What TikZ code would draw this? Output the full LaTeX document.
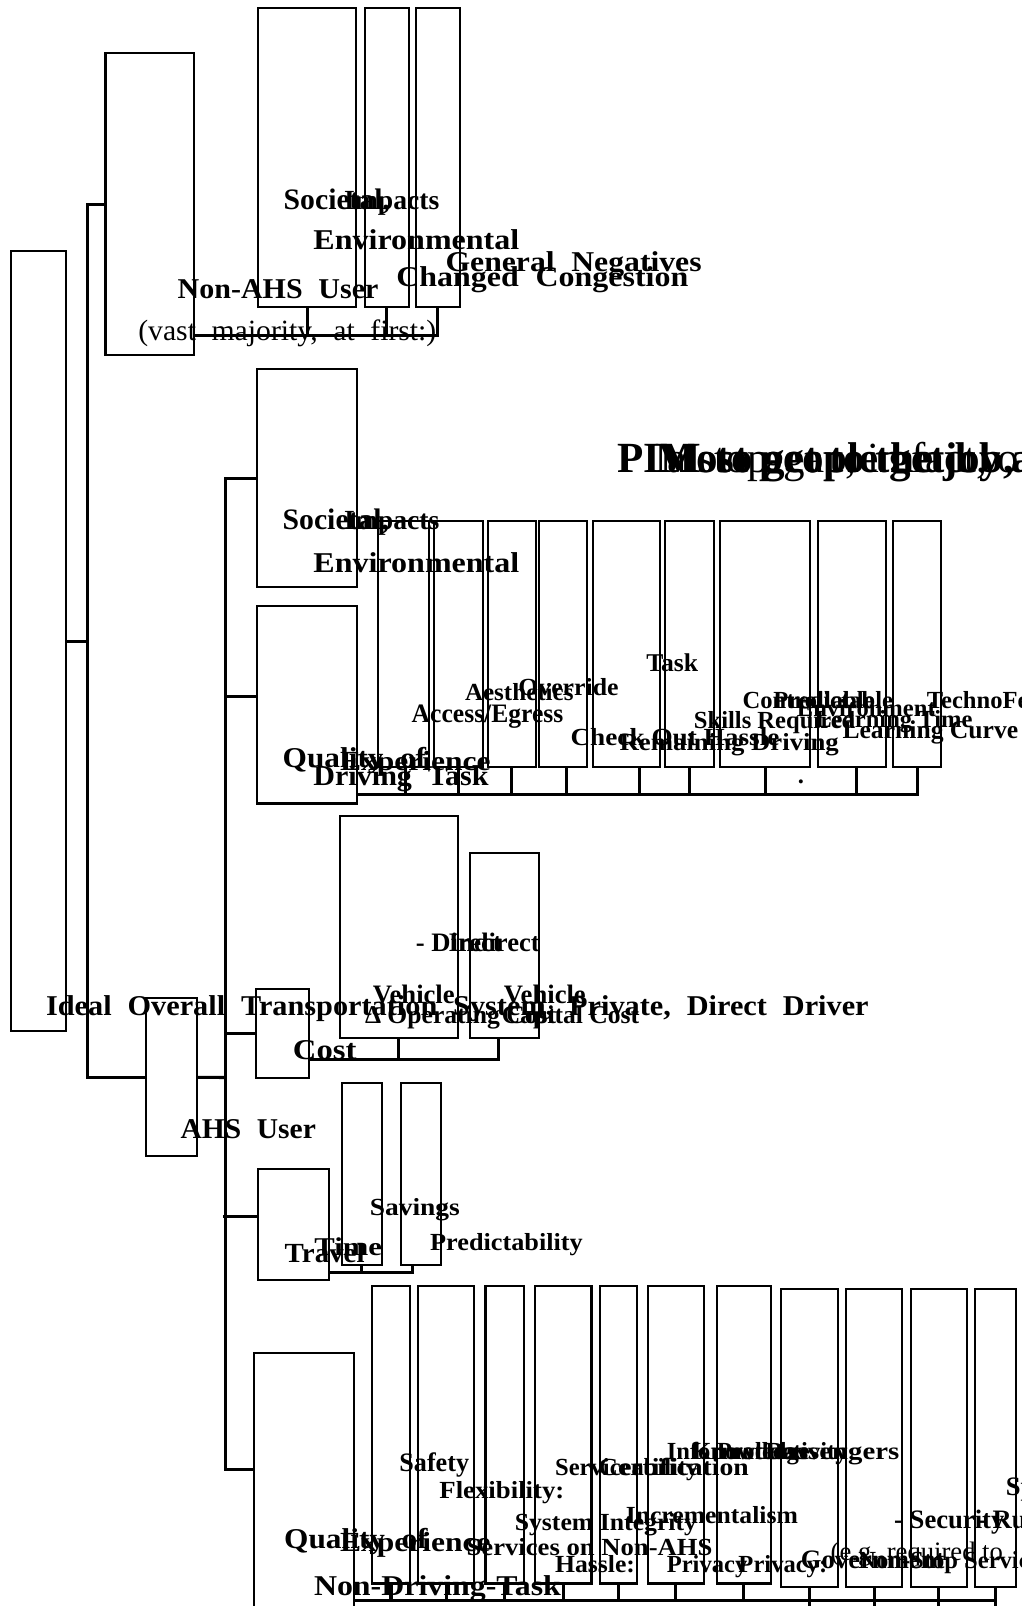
\documentclass[tikz,border=0pt]{standalone}
\usepackage{fontspec}
\usepackage{graphicx}
\setmainfont{Liberation Serif}
\newfontfamily\wfam{Liberation Serif}[WordSpace=2.9]
\newfontfamily\mfam{Liberation Serif}[WordSpace=2.1]
\newcommand\fitw[2]{\resizebox{#1pt}{\height}{#2}}
\tikzset{
  bx/.style={draw, line width=2pt, outer sep=0pt, inner sep=0pt, anchor=north west},
  cn/.style={line width=3pt},
  lb/.style={anchor=base west, inner sep=0pt, outer sep=0pt, font=\bfseries\fontsize{#1}{#1}\selectfont},
  lw/.style={anchor=base west, inner sep=0pt, outer sep=0pt, font=\wfam\bfseries\fontsize{#1}{#1}\selectfont},
  lr/.style={anchor=base west, inner sep=0pt, outer sep=0pt, font=\mfam\fontsize{#1}{#1}\selectfont},
  ln/.style={anchor=base west, inner sep=0pt, outer sep=0pt, font=\fontsize{#1}{#1}\selectfont},
}
\begin{document}
\begin{tikzpicture}[x=1pt,y=-1pt]
\useasboundingbox (0,0) rectangle (997,1568);
\clip (0,0) rectangle (997,1568);
% ---------------- boxes ----------------
\node[bx, minimum width=53pt, minimum height=762pt] (root) at (11,245) {};
\node[bx, minimum width=86pt, minimum height=295pt] (nonahs) at (103,52) {};
\node[bx, minimum width=96pt, minimum height=292pt] (nA) at (252,8) {};
\node[bx, minimum width=43pt, minimum height=292pt] (nB) at (356,8) {};
\node[bx, minimum width=43pt, minimum height=292pt] (nC) at (406,8) {};
\node[bx, minimum width=49.4pt, minimum height=154.4pt] (ahs) at (142.6,974.6) {};
\node[bx, minimum width=98pt, minimum height=213.5pt] (soc2) at (250.5,360) {};
\node[bx, minimum width=98pt, minimum height=192.5pt] (qdrv) at (250.5,592) {};
\node[bx, minimum width=50pt, minimum height=240.5pt] (d1) at (369,508.5) {};
\node[bx, minimum width=48pt, minimum height=240.5pt] (d2) at (424,508.5) {};
\node[bx, minimum width=46.5pt, minimum height=240.5pt] (d3) at (476.5,508.5) {};
\node[bx, minimum width=47pt, minimum height=240.5pt] (d4) at (526,508.5) {};
\node[bx, minimum width=65pt, minimum height=240.5pt] (d5) at (579,508.5) {};
\node[bx, minimum width=48pt, minimum height=240.5pt] (d6) at (649,508.5) {};
\node[bx, minimum width=88pt, minimum height=240.5pt] (d7) at (703,508.5) {};
\node[bx, minimum width=66pt, minimum height=240.5pt] (d8) at (799,508.5) {};
\node[bx, minimum width=47pt, minimum height=240.5pt] (d9) at (872,508.5) {};
\node[bx, minimum width=52.4pt, minimum height=86.3pt] (cost) at (249.6,966) {};
\node[bx, minimum width=115pt, minimum height=216pt] (cD) at (332,797) {};
\node[bx, minimum width=67pt, minimum height=180pt] (cE) at (459,833) {};
\node[bx, minimum width=69pt, minimum height=109pt] (trav) at (252,1141) {};
\node[bx, minimum width=39.4pt, minimum height=177pt] (tF) at (333.6,1057.6) {};
\node[bx, minimum width=39.4pt, minimum height=177pt] (tG) at (391.6,1057.6) {};
\node[bx, minimum width=98pt, minimum height=300pt] (qnd) at (248,1321) {};
\node[bx, minimum width=37.5pt, minimum height=290.5pt] (n1) at (363,1255.5) {};
\node[bx, minimum width=55pt, minimum height=290.5pt] (n2) at (408,1255.5) {};
\node[bx, minimum width=38pt, minimum height=290.5pt] (n3) at (474,1255.5) {};
\node[bx, minimum width=55.5pt, minimum height=290.5pt] (n4) at (522,1255.5) {};
\node[bx, minimum width=36.5pt, minimum height=290.5pt] (n5) at (585.5,1255.5) {};
\node[bx, minimum width=54.5pt, minimum height=290.5pt] (n6) at (632.5,1255.5) {};
\node[bx, minimum width=52.5pt, minimum height=290.5pt] (n7) at (700,1255.5) {};
\node[bx, minimum width=55.5pt, minimum height=290.7pt] (n8) at (762.5,1258.7) {};
\node[bx, minimum width=55pt, minimum height=290.7pt] (n9) at (826,1258.7) {};
\node[bx, minimum width=55pt, minimum height=290.7pt] (n10) at (889,1258.7) {};
\node[bx, minimum width=39.5pt, minimum height=290.7pt] (n11) at (952,1258.7) {};
% ---------------- connectors ----------------
\coordinate (jR) at (85,626);
\draw[cn] (root.east) -- (jR);
\draw[cn] (nonahs.west) -| (jR) |- (ahs.west);
\coordinate (jA) at (220,1052);
\draw[cn] (ahs.east) -- (jA);
\draw[cn] (soc2.west) -| (jA) |- ([yshift=36.4pt]qnd.west);
\draw[cn] ([yshift=8pt]qdrv.west) -- ++(-30.5,0);
\draw[cn] (cost.west) -- (cost.west -| jA);
\draw[cn] ([yshift=8pt]trav.west) -- ++(-34.5,0);
% top bar
\coordinate (barT) at (189,328);
\draw[cn] (barT) -| (nC.south);
\draw[cn] (nA.south) -- (nA.south |- barT);
\draw[cn] (nB.south) -- (nB.south |- barT);
% driving task bar
\coordinate (barD) at (348.5,776);
\draw[cn] (barD) -| (d9.south);
\foreach \n/\s in {d1/2,d2/0,d3/0,d4/4,d5/13,d6/0,d7/0,d8/4}
  \draw[cn] ([xshift=\s pt]\n.south) -- ([xshift=\s pt]\n.south |- barD);
% cost bar
\coordinate (barC) at (302,1034);
\draw[cn] (barC) -| ([xshift=-6pt]cE.south);
\draw[cn] (cD.south) -- (cD.south |- barC);
% travel bar
\coordinate (barV) at (321,1242);
\draw[cn] (barV) -| ([xshift=-9pt]tG.south);
\draw[cn] (tF.south) -- (tF.south |- barV);
% bottom bar
\coordinate (barB) at (346,1562.5);
\coordinate (bot) at (0,1585);
\draw[cn] (barB) -- (barB -| n11.south);
\foreach \n in {n1,n2,n3,n4,n5,n6,n7}
  \draw[cn] (\n.south) -- (\n.south |- barB);
\foreach \n in {n8,n9,n10,n11}
  \draw[cn] (\n.south) -- (\n.south |- bot);
% ---------------- texts: top ----------------
\node[lb=29] (t1) at (277,205) {Societal,};
\node[lb=27] (t2) at (336,205) {Impacts};
\node[lb=28] (t3) at (306,244) {\fitw{201}{Environmental}};
\node[lw=28] (t4) at (435,265) {\fitw{250}{General Negatives}};
\node[lw=28] (t5) at (387,280) {\fitw{285}{Changed Congestion}};
\node[lw=28] (t6) at (173.5,291) {\fitw{196}{Non-AHS User}};
\node[lr=28.7] (t7) at (135,332) {\fitw{291}{(vast majority, at first:)}};
% PIM overlay
\node[lb=42] (p1) at (603,461) {PIM};
\node[lb=42] (p2) at (640,461) {Most people get by auto,};
\node[ln=42] (p3) at (652,461) {a stop-gap, in fact, only};
\node[lb=42] (p4) at (700,461) {to get to the job, a big};
% ---------------- texts: driving task ----------------
\node[lb=29] (t12) at (276,517) {Societal,};
\node[lb=27] (t13) at (336,517) {Impacts};
\node[lb=28] (t14) at (306,559) {\fitw{201}{Environmental}};
\node[lw=28] (t15) at (276,749) {\fitw{140}{Quality of}};
\node[lb=27] (t16) at (332,752) {\fitw{147}{Experience}};
\node[lw=28] (t17) at (306,767) {\fitw{171}{Driving Task}};
\node[lb=26] (t18) at (402,705) {\fitw{148}{Access/Egress}};
\node[lb=24] (t19) at (454,684) {\fitw{106}{Aesthetics}};
\node[lb=24] (t20) at (506,679) {\fitw{98}{Override}};
\node[lb=25] (t21) at (631,656) {Task};
\node[lb=24] (t22) at (557,728) {\fitw{204}{Check Out Hassle}};
\node[lb=24] (t23) at (605,733) {\fitw{214}{Remaining Driving}};
\node[lb=24] (t24) at (725,692) {Controllable};
\node[lb=24] (t25) at (755,692) {Predictable};
\node[lb=24] (t26) at (778,700) {Environment};
\node[lb=24] (t27) at (677.5,711) {Skills Required};
\node[lb=24] (t28) at (796,710) {Learning Time};
\node[lb=25] (t29) at (822.6,721) {Learning Curve};
\node[lb=24] (t30) at (905,692) {TechnoFear};
\node[lb=24] (t31) at (779,765) {.};
% ---------------- texts: cost ----------------
\node[lb=26] (t32) at (406,929) {- Direct};
\node[lb=26] (t33) at (438,929) {Indirect};
\node[lb=26] (t34) at (364,980) {Vehicle};
\node[lb=26] (t35) at (492,980) {Vehicle};
\node[lb=25] (t36) at (356.4,999) {Δ Operating Cost};
\node[lb=25] (t37) at (490,999) {Capital Cost};
\node[lw=28] (t38) at (45,991) {\fitw{803}{Ideal Overall Transportation System, Private, Direct Driver}};
\node[lb=28] (t39) at (286,1034) {\fitw{62}{Cost}};
\node[lw=28] (t40) at (176.4,1111.6) {\fitw{132}{AHS User}};
% ---------------- texts: travel ----------------
\node[lb=24] (t41) at (361,1186.5) {\fitw{88}{Savings}};
\node[lb=25] (t42) at (307,1225.6) {\fitw{66}{Time}};
\node[lb=27] (t43) at (278,1233) {\fitw{78}{Travel}};
\node[lb=24] (t44) at (420,1221) {\fitw{149}{Predictability}};
% ---------------- texts: non-driving task ----------------
\node[lb=26] (t45) at (390,1437) {\fitw{68}{Safety}};
\node[lb=24] (t46) at (429,1463) {\fitw{122}{Flexibility:}};
\node[lb=24] (t47) at (542,1441) {Serviceability};
\node[lb=24] (t48) at (584,1441) {\fitw{147}{Certification}};
\node[lb=24] (t49) at (651,1425) {Information};
\node[lb=24] (t50) at (676,1425) {Knowledge};
\node[lb=24] (t51) at (700,1425) {Productivity};
\node[lb=24] (t52) at (747,1425) {\fitw{131}{Passengers}};
\node[lb=24] (t53) at (502.6,1494) {\fitw{178}{System Integrity}};
\node[lb=24] (t54) at (611,1487.5) {\fitw{168}{Incrementalism}};
\node[lw=28] (t55) at (277.5,1512) {\fitw{140}{Quality of}};
\node[lb=27] (t56) at (332,1515) {\fitw{147}{Experience}};
\node[lb=24] (t57) at (455.6,1518.4) {\fitw{240}{Services on Non-AHS}};
\node[lb=24] (t58) at (542,1535.7) {\fitw{78}{Hassle:}};
\node[lb=24] (t59) at (651,1535.7) {Privacy};
\node[lb=24] (t60) at (721,1535.7) {Privacy:};
\node[lb=26] (t61) at (782,1531) {Government};
\node[ln=26] (t62) at (811,1524) {(e.g. required to};
\node[lb=24] (t63) at (838,1531) {Non-Stop Service};
\node[lb=26] (t64) at (873,1492.5) {- Security};
\node[lb=26] (t65) at (954,1492.5) {- Runs};
\node[lb=26] (t66) at (982,1460) {Speed};
\node[lb=28] (t67) at (306.6,1557.6) {\fitw{241}{Non-Driving-Task}};
\end{tikzpicture}
\end{document}
